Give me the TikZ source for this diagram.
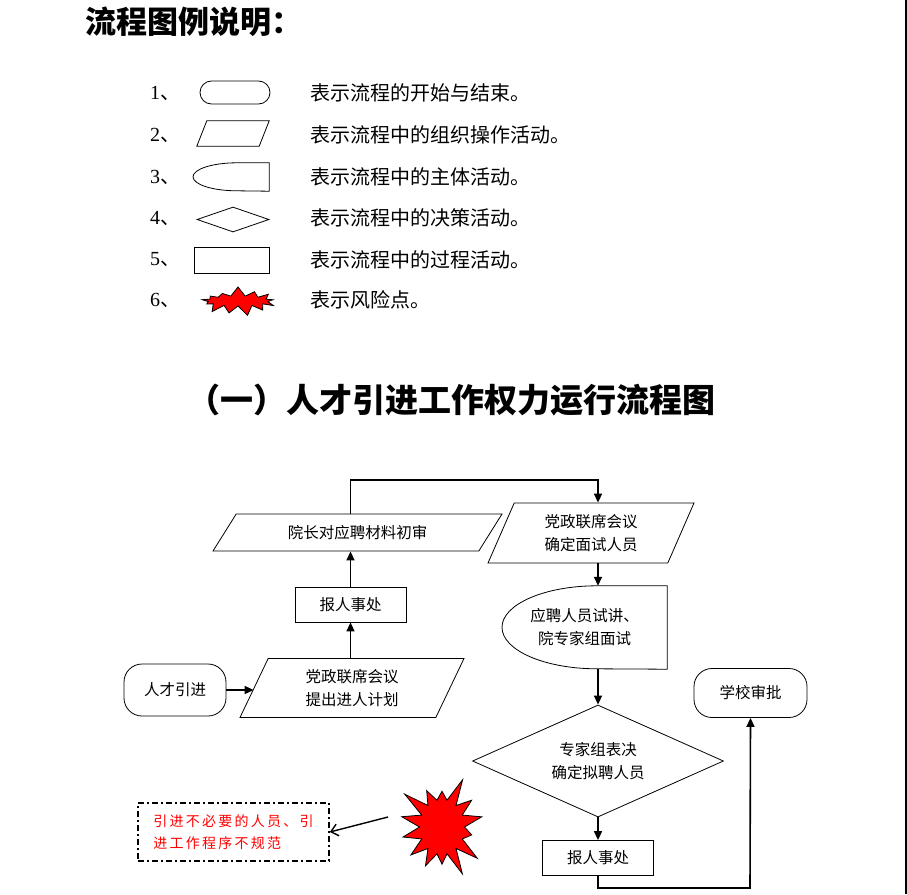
\documentclass[tikz,border=0pt]{standalone}
\usepackage{fontspec}
\setmainfont{Liberation Serif}
\newfontfamily\cjk{Noto Sans CJK SC}
\usetikzlibrary{arrows.meta,shapes.geometric,shapes.symbols}

\begin{document}
\begin{tikzpicture}[x=1pt,y=-1pt,
  hd/.style={font=\cjk\bfseries\fontsize{31}{36}\selectfont,inner sep=0pt},
  lg/.style={font=\cjk\fontsize{20}{24}\selectfont,anchor=west,inner sep=0pt},
  num/.style={font=\fontsize{20}{24}\selectfont,anchor=west,inner sep=0pt},
  tx/.style={font=\cjk\fontsize{15.5}{23}\selectfont,align=center},
  term/.style={draw,thick,rounded corners=18pt,minimum width=102pt,minimum height=52pt,inner sep=0pt},
  io/.style={draw,thick,trapezium,trapezium stretches body,inner sep=0pt},
  proc/.style={draw,thick,minimum width=111pt,minimum height=35pt,inner sep=0pt},
  dec/.style={draw,thick,diamond,aspect=2.24,minimum width=251pt,minimum height=112pt,inner sep=0pt},
  risk/.style={starburst,draw,thick,fill=red,inner sep=0pt},
  ar/.style={-{Triangle[length=9pt,width=8pt]},line width=1.6pt},
  rar/.style={-{Straight Barb[length=7pt,width=12pt]},line width=1.4pt}]
\useasboundingbox (0,0) rectangle (907,894);
\draw[line width=2pt] (906,0) -- (906,894);

% legend
\node[hd,anchor=west] (head) at (85,22) {流程图例说明：};
\node[num] (n1) at (150,93) {1\cjk、};
\node[num] (n2) at (150,135) {2\cjk、};
\node[num] (n3) at (150,177) {3\cjk、};
\node[num] (n4) at (150,218) {4\cjk、};
\node[num] (n5) at (150,260) {5\cjk、};
\node[num] (n6) at (150,300) {6\cjk、};
\node[draw,thick,rounded corners=11.5pt,minimum width=70pt,minimum height=23pt] (s1) at (235,92.5) {};
\node[minimum width=72pt,minimum height=25pt] (s2) at (233,133.5) {};
\draw[thick] ([xshift=10pt]s2.north west) -- (s2.north east) -- ([xshift=-10pt]s2.south east) -- (s2.south west) -- cycle;
\node[minimum width=76pt,minimum height=28pt] (s3) at (231,177) {};
\draw[thick] (s3.north east) -- (s3.north east -| 237,0) arc[start angle=-90,end angle=-270,x radius=44,y radius=14] -- (s3.south east) -- cycle;
\node[draw,thick,diamond,minimum width=72pt,minimum height=25pt,inner sep=0pt] (s4) at (233,219.5) {};
\node[draw,thick,minimum width=75pt,minimum height=26pt] (s5) at (231.5,260) {};
\node[risk,starburst points=13,starburst point height=10pt,random starburst=7,minimum width=80pt,minimum height=30pt] (s6) at (238,301) {};
\node[lg] (t1) at (310,93) {表示流程的开始与结束。};
\node[lg] (t2) at (310,135) {表示流程中的组织操作活动。};
\node[lg] (t3) at (310,177) {表示流程中的主体活动。};
\node[lg] (t4) at (310,218) {表示流程中的决策活动。};
\node[lg] (t5) at (310,260) {表示流程中的过程活动。};
\node[lg] (t6) at (310,300) {表示风险点。};

% flow chart
\node[hd,font=\cjk\bfseries\fontsize{33}{38}\selectfont] (title) at (451,400) {（一）人才引进工作权力运行流程图};
\node[term,tx] (A) at (175,690) {人才引进};
\node[io,tx,trapezium left angle=53,trapezium right angle=127,minimum width=224pt,minimum height=59pt] (B) at (352,688) {党政联席会议\\提出进人计划};
\node[proc,tx] (C) at (350.5,604.5) {报人事处};
\node[io,tx,trapezium left angle=32,trapezium right angle=148,minimum width=289pt,minimum height=37pt] (D) at (357.5,532.5) {院长对应聘材料初审};
\node[io,tx,trapezium left angle=55,trapezium right angle=125,minimum width=206pt,minimum height=60pt] (E) at (591,533) {党政联席会议\\确定面试人员};
\node[tx,minimum width=165pt,minimum height=83pt,inner sep=0pt] (F) at (584.5,627.5) {应聘人员试讲、\\院专家组面试};
\draw[thick] (F.north east) -- (F.north east -| 597,0) arc[start angle=-90,end angle=-270,x radius=95,y radius=41.5] -- (F.south east) -- cycle;
\node[dec,tx] (G) at (598,761) {专家组表决\\确定拟聘人员};
\node[proc,tx] (H) at (598,858) {报人事处};
\node[term,tx,minimum width=113pt,minimum height=49pt] (I) at (750.5,693) {学校审批};
\node[risk,starburst points=14,starburst point height=26pt,random starburst=3,minimum width=97pt,minimum height=107pt] (R) at (442,827) {};
\node[draw,line width=1.6pt,dash pattern=on 6pt off 3pt on 2pt off 3pt,minimum width=191pt,minimum height=58pt,
  align=left,text=red,font=\cjk\fontsize{14}{22}\selectfont\addfontfeatures{LetterSpace=16}] (W) at (233.5,832) {引进不必要的人员、引\\进工作程序不规范\hspace*{32pt}};
\coordinate (top) at (598,480);
\coordinate (low) at (750,888);

\draw[ar] (A) -- (A -| B.west);
\draw[ar] (B.north -| C) -- (C.south);
\draw[ar] (C) -- (C |- D.south);
\draw[ar] (C |- D.north) |- (top) -- (E.north -| top);
\draw[ar] (E.south -| G) -- (F.north -| G);
\draw[ar] (F.south -| G) -- (G.north);
\draw[ar] (G) -- (H);
\draw[ar] (H.south) |- (low) -- (I.south);
\draw[rar] (388,817) -- (W.east);
\end{tikzpicture}
\end{document}
